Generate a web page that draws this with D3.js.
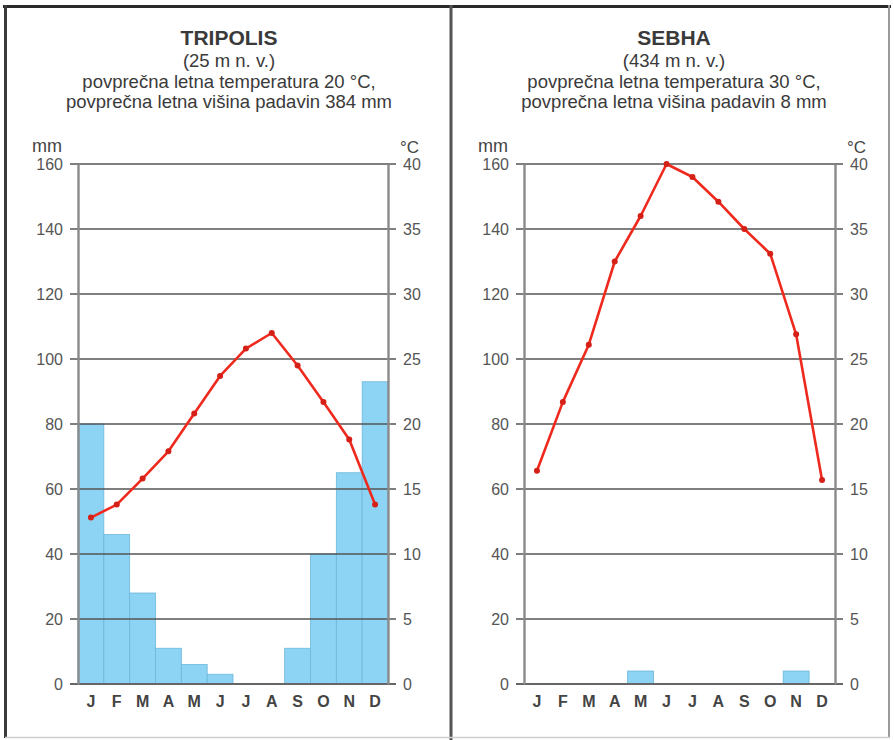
<!DOCTYPE html>
<html>
<head>
<meta charset="utf-8">
<script src="https://cdn.jsdelivr.net/npm/d3@7"></script>
<style>
  html, body { margin: 0; padding: 0; background: #ffffff; }
  svg { display: block; font-family: "Liberation Sans", Arial, sans-serif; }
</style>
</head>
<body>
<svg id="chart" width="894" height="740"></svg>
<script>
// ---- data ----
const months = ["J","F","M","A","M","J","J","A","S","O","N","D"];
const mmTicks = [0, 20, 40, 60, 80, 100, 120, 140, 160];
const cTicks = [0, 5, 10, 15, 20, 25, 30, 35, 40];

const cityNames = ["TRIPOLIS", "SEBHA"];
const cityAltitudes = ["(25 m n. v.)", "(434 m n. v.)"];
const cityTempLines = ["povprečna letna temperatura 20 °C,", "povprečna letna temperatura 30 °C,"];
const cityPrecipLines = ["povprečna letna višina padavin 384 mm", "povprečna letna višina padavin 8 mm"];

const tripolisPrecip = [80, 46, 28, 11, 6, 3, 0, 0, 11, 40, 65, 93];
const tripolisTemp   = [12.8, 13.8, 15.8, 17.9, 20.8, 23.7, 25.8, 27.0, 24.5, 21.7, 18.8, 13.8];
const sebhaPrecip    = [0, 0, 0, 0, 4, 0, 0, 0, 0, 0, 4, 0];
const sebhaTemp      = [16.4, 21.7, 26.1, 32.5, 36.0, 40.0, 39.0, 37.1, 35.0, 33.1, 26.9, 15.7];

// ---- layout ----
const svg = d3.select("#chart");
const panels = [
  { name: 0, precip: tripolisPrecip, temp: tripolisTemp, x0: 78, x1: 388, cx: 229 },
  { name: 1, precip: sebhaPrecip, temp: sebhaTemp, x0: 524, x1: 835, cx: 674 }
];
const yTop = 164, yBot = 684;

// frame
svg.append("rect").attr("x", 0).attr("y", 0).attr("width", 894).attr("height", 740).attr("fill", "#fff");
svg.append("line").attr("x1", 3).attr("x2", 891).attr("y1", 6.5).attr("y2", 6.5).attr("stroke", "#2a2a2a").attr("stroke-width", 3);
svg.append("line").attr("x1", 5.5).attr("x2", 5.5).attr("y1", 5).attr("y2", 738).attr("stroke", "#3a3a3a").attr("stroke-width", 3);
svg.append("line").attr("x1", 451).attr("x2", 451).attr("y1", 5).attr("y2", 740).attr("stroke", "#555").attr("stroke-width", 3);
svg.append("line").attr("x1", 889).attr("x2", 889).attr("y1", 5).attr("y2", 738).attr("stroke", "#9a9a9a").attr("stroke-width", 2);
svg.append("line").attr("x1", 5).attr("x2", 890).attr("y1", 737.5).attr("y2", 737.5).attr("stroke", "#cfcfcf").attr("stroke-width", 1.5);

panels.forEach(p => {
  const g = svg.append("g");
  const x = d3.scaleBand().domain(d3.range(12)).range([p.x0, p.x1]).padding(0);
  const yMM = d3.scaleLinear().domain([0, 160]).range([yBot, yTop]);
  const yC = d3.scaleLinear().domain([0, 40]).range([yBot, yTop]);

  // titles
  const tg = g.append("g").attr("text-anchor", "middle").attr("fill", "#3a3a3a");
  tg.append("text").attr("x", p.cx).attr("y", 45).attr("font-size", 21).attr("font-weight", "bold").text(cityNames[p.name]);
  tg.append("text").attr("x", p.cx).attr("y", 67).attr("font-size", 18.5).text(cityAltitudes[p.name]);
  tg.append("text").attr("x", p.cx).attr("y", 88).attr("font-size", 18.5).text(cityTempLines[p.name]);
  tg.append("text").attr("x", p.cx).attr("y", 108).attr("font-size", 18.5).text(cityPrecipLines[p.name]);

  // unit labels
  g.append("text").attr("x", p.x0 - 46).attr("y", 152).attr("font-size", 18).attr("fill", "#444").text("mm");
  g.append("text").attr("x", p.x1 + 12).attr("y", 153).attr("font-size", 17).attr("fill", "#444").text("°C");

  // bars
  g.append("g").selectAll("rect").data(p.precip).join("rect")
    .attr("x", (d, i) => x(i))
    .attr("y", d => yMM(d))
    .attr("width", x.bandwidth())
    .attr("height", d => yBot - yMM(d))
    .attr("fill", "#8dd3f3")
    .attr("stroke", "#6db7da")
    .attr("stroke-width", d => d > 0 ? 0.8 : 0);

  // gridlines with outer ticks
  g.append("g").selectAll("line").data(mmTicks).join("line")
    .attr("x1", p.x0 - 8).attr("x2", p.x1 + 8)
    .attr("y1", d => yMM(d)).attr("y2", d => yMM(d))
    .attr("stroke", d => d === 0 ? "#666" : "#555")
    .attr("stroke-width", d => d === 0 ? 2.2 : 1.6);

  // left axis
  const la = g.append("g").attr("transform", `translate(${p.x0},0)`)
    .call(d3.axisLeft(yMM).tickValues(mmTicks).tickSize(0).tickPadding(15));
  la.select(".domain").attr("stroke", "#8a8a8a").attr("stroke-width", 2.4);
  la.selectAll("text").attr("font-size", 16).attr("fill", "#555").attr("font-family", "Liberation Sans, Arial, sans-serif");

  // right axis
  const ra = g.append("g").attr("transform", `translate(${p.x1},0)`)
    .call(d3.axisRight(yC).tickValues(cTicks).tickSize(0).tickPadding(15));
  ra.select(".domain").attr("stroke", "#8a8a8a").attr("stroke-width", 2.4);
  ra.selectAll("text").attr("font-size", 16).attr("fill", "#555").attr("font-family", "Liberation Sans, Arial, sans-serif");

  // month labels
  const xa = g.append("g").attr("transform", `translate(0,${yBot})`)
    .call(d3.axisBottom(x).tickFormat(i => months[i]).tickSize(0).tickPadding(12));
  xa.select(".domain").remove();
  xa.selectAll("text").attr("font-size", 16).attr("fill", "#444").attr("font-weight", "bold").attr("font-family", "Liberation Sans, Arial, sans-serif");

  // temperature line
  const line = d3.line().x((d, i) => x(i) + x.bandwidth() / 2).y(d => yC(d));
  g.append("path").datum(p.temp).attr("d", line)
    .attr("fill", "none").attr("stroke", "#ee2a1e").attr("stroke-width", 2.6).attr("stroke-linejoin", "round");
  g.append("g").selectAll("circle").data(p.temp).join("circle")
    .attr("cx", (d, i) => x(i) + x.bandwidth() / 2)
    .attr("cy", d => yC(d))
    .attr("r", 3)
    .attr("fill", "#d42016");
});
</script>
</body>
</html>
